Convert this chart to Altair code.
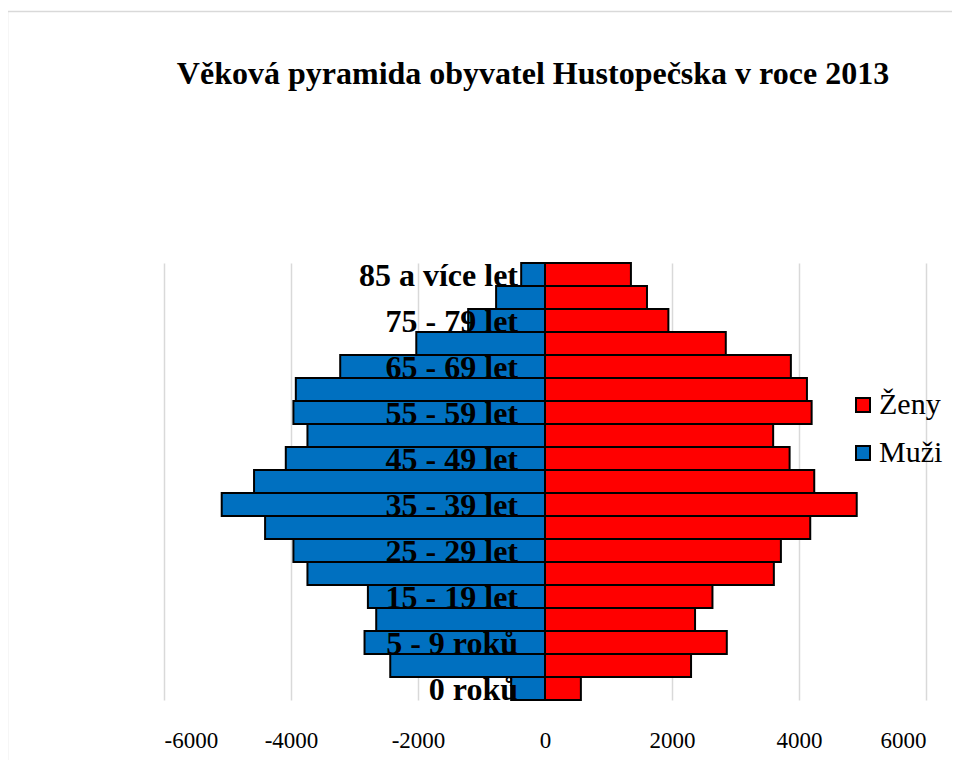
import altair as alt
import pandas as pd

categories = ["0 roků", "1 - 4 roky", "5 - 9 roků", "10 - 14 let", "15 - 19 let",
              "20 - 24 let", "25 - 29 let", "30 - 34 let", "35 - 39 let", "40 - 44 let",
              "45 - 49 let", "50 - 54 let", "55 - 59 let", "60 - 64 let", "65 - 69 let",
              "70 - 74 let", "75 - 79 let", "80 - 84 let", "85 a více let"]
muzi = [-533, -2437, -2842, -2658, -2789, -3741, -3962, -4408, -5091, -4582,
        -4082, -3741, -3962, -3924, -3225, -2027, -1210, -770, -375]
zeny = [565, 2300, 2863, 2363, 2637, 3604, 3715, 4177, 4909, 4240,
        3852, 3593, 4199, 4125, 3872, 2847, 1943, 1606, 1353]
series = ["Ženy", "Muži"]
colors = ["#FF0000", "#0070C0"]
x_ticks = [-6000, -4000, -2000, 0, 2000, 4000, 6000]
shown_labels = categories[::2]

rows = []
for c, m, z in zip(categories, muzi, zeny):
    rows.append({"vek": c, "pohlavi": "Muži", "pocet": m})
    rows.append({"vek": c, "pohlavi": "Ženy", "pocet": z})
df = pd.DataFrame(rows)
lab = pd.DataFrame({"vek": shown_labels})

serif = "Liberation Serif"
yscale = alt.Scale(domain=categories[::-1], paddingInner=0, paddingOuter=0)
xscale = alt.Scale(domain=[-6000, 6000], nice=False)

border = alt.Chart(df).mark_rect(fill=None, stroke="#d9d9d9", strokeWidth=1.5).encode(
    x=alt.value(-156.5), x2=alt.value(900), y=alt.value(-251.5), y2=alt.value(600)
).transform_filter("datum.vek == '0 roků' && datum.pohlavi == 'Muži'")

bars = alt.Chart(df).mark_bar(stroke="black", strokeWidth=2).encode(
    x=alt.X("pocet:Q", scale=xscale,
            axis=alt.Axis(values=x_ticks, labelExpr="'' + datum.value", title=None,
                          grid=True, gridColor="#d9d9d9", gridWidth=1.5, domain=False,
                          ticks=False, labelFont=serif, labelFontSize=23,
                          labelColor="black", labelPadding=29)),
    y=alt.Y("vek:N", scale=yscale, axis=None),
    color=alt.Color("pohlavi:N", scale=alt.Scale(domain=series, range=colors),
                    legend=alt.Legend(title=None, orient="none", legendX=684, legendY=127,
                                      symbolType="square", symbolSize=196,
                                      symbolStrokeColor="black", symbolStrokeWidth=2,
                                      labelFont=serif, labelFontSize=30, labelColor="black",
                                      rowPadding=18, labelOffset=1)),
)

labels = alt.Chart(lab).mark_text(align="right", baseline="middle", dx=-27, dy=1,
                                  font=serif, fontSize=32, fontWeight="bold",
                                  color="black").encode(
    x=alt.datum(0),
    y=alt.Y("vek:N", scale=yscale, axis=None),
    text="vek:N",
)

chart = alt.layer(border, bars, labels).properties(
    width=762, height=437,
    autosize=alt.AutoSizeParams(type="none"),
    padding={"left": 156, "top": 255, "right": 26, "bottom": 60},
    title=alt.TitleParams("Věková pyramida obyvatel Hustopečska v roce 2013",
                          font=serif, fontSize=32, fontWeight="bold", color="black",
                          anchor="middle", frame="group", offset=-80, dx=-12),
).configure_view(stroke=None)

chart.save("out.html", embed_options={"renderer": "svg", "actions": False})
